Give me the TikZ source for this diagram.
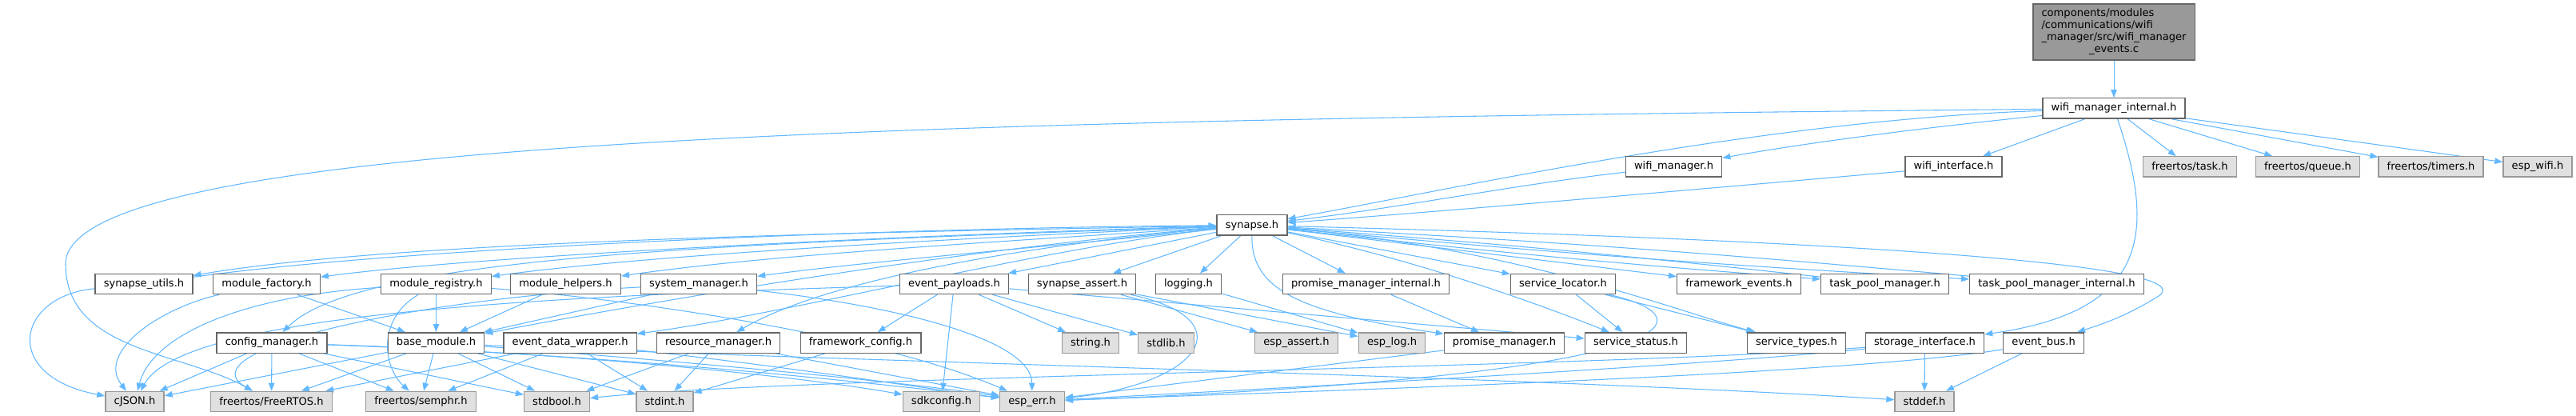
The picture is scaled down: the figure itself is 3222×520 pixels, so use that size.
\documentclass[tikz,border=0pt]{standalone}
\usepackage{fontspec}
\setmainfont{DejaVu Sans}
\usetikzlibrary{arrows.meta}
\definecolor{edgeblue}{HTML}{63B8FF}
\definecolor{boxline}{HTML}{666666}
\definecolor{sysline}{HTML}{999999}
\definecolor{sysfill}{HTML}{E0E0E0}
\definecolor{srcfill}{HTML}{999999}
\pgfdeclarelayer{edges}
\pgfsetlayers{edges,main}

\begin{document}
\begin{tikzpicture}[x=0.75pt,y=-0.75pt,
  every node/.style={font=\fontsize{9.8pt}{11.25pt}\selectfont,inner xsep=8pt,inner ysep=0pt,minimum height=19pt},
  hdr/.style={draw=boxline,fill=white,line width=1pt},
  sysh/.style={draw=sysline,fill=sysfill,line width=1pt},
  srcfile/.style={draw=boxline,fill=srcfill,line width=1pt,minimum height=52.5pt},
  dep/.style={draw=edgeblue,line width=0.8pt,-{Triangle[length=7.5pt,width=5.6pt]}}]
  \path[use as bounding box] (0,0) rectangle (3222,520);  % 源图 3222x520 px，1px = 0.75pt
  % ---- 第 0/1 层：源文件与 wifi_manager_internal.h（中心取源图像素）----
  \node[srcfile] (src) at (2644,40) {\begin{tabular}{@{}l@{}}components/modules\\/communications/wifi\\\_manager/src/wifi\_manager\\\multicolumn{1}{@{}c@{}}{\_events.c}\end{tabular}};
  \node[hdr] (wmi) at (2644,135.5) {wifi\_manager\_internal.h};
  % ---- 第 2 层 y=208.5 ----
  \node[hdr]  (wmgr)    at (2093.5,208.5) {wifi\_manager.h};
  \node[hdr]  (wif)     at (2443.5,208.5) {wifi\_interface.h};
  \node[sysh] (ftask)   at (2739,208.5)   {freertos/task.h};
  \node[sysh] (fqueue)  at (2886.5,208.5) {freertos/queue.h};
  \node[sysh] (ftimers) at (3040.5,208.5) {freertos/timers.h};
  \node[sysh] (espwifi) at (3174,208.5)   {esp\_wifi.h};
  % ---- 第 3 层 ----
  \node[hdr] (syn) at (1566,281.5) {synapse.h};
  % ---- 第 4 层 y=355 ----
  \node[hdr] (sutils)   at (180,355)    {synapse\_utils.h};
  \node[hdr] (mfact)    at (333.5,355)  {module\_factory.h};
  \node[hdr] (mreg)     at (545.5,355)  {module\_registry.h};
  \node[hdr] (mhelp)    at (707.5,355)  {module\_helpers.h};
  \node[hdr] (sysmgr)   at (874,355)    {system\_manager.h};
  \node[hdr] (evpay)    at (1193.5,355) {event\_payloads.h};
  \node[hdr] (sassert)  at (1353.5,355) {synapse\_assert.h};
  \node[hdr] (logging)  at (1486.5,355) {logging.h};
  \node[hdr] (pmint)    at (1708.5,355) {promise\_manager\_internal.h};
  \node[hdr] (svcloc)   at (1955,355)   {service\_locator.h};
  \node[hdr] (fwevents) at (2175,355)   {framework\_events.h};
  \node[hdr] (tpm)      at (2357.5,355) {task\_pool\_manager.h};
  \node[hdr] (tpmint)   at (2572.5,355) {task\_pool\_manager\_internal.h};
  % ---- 第 5 层 y=428.5 ----
  \node[hdr]  (cfgmgr)    at (340,428.5)    {config\_manager.h};
  \node[hdr]  (basemod)   at (545.5,428.5)  {base\_module.h};
  \node[hdr]  (evdw)      at (713,428.5)    {event\_data\_wrapper.h};
  \node[hdr]  (resmgr)    at (898.5,428.5)  {resource\_manager.h};
  \node[hdr]  (fwcfg)     at (1076.5,428.5) {framework\_config.h};
  \node[sysh] (stringh)   at (1364,428.5)   {string.h};
  \node[sysh] (stdlibh)   at (1458.5,428.5) {stdlib.h};
  \node[sysh] (espassert) at (1621.5,428.5) {esp\_assert.h};
  \node[sysh] (esplog)    at (1741,428.5)   {esp\_log.h};
  \node[hdr]  (pmgr)      at (1881.5,428.5) {promise\_manager.h};
  \node[hdr]  (svcstat)   at (2046,428.5)   {service\_status.h};
  \node[hdr]  (svctypes)  at (2247,428.5)   {service\_types.h};
  \node[hdr]  (storage)   at (2407.5,428.5) {storage\_interface.h};
  \node[hdr]  (evbus)     at (2556,428.5)   {event\_bus.h};
  % ---- 第 6 层 y=502：系统头文件 ----
  \node[sysh] (cjson)    at (168.5,502)  {cJSON.h};
  \node[sysh] (frtos)    at (339.5,502)  {freertos/FreeRTOS.h};
  \node[sysh] (semphr)   at (526.5,502)  {freertos/semphr.h};
  \node[sysh] (stdboolh) at (696.5,502)  {stdbool.h};
  \node[sysh] (stdinth)  at (831.5,502)  {stdint.h};
  \node[sysh] (sdkcfg)   at (1177.5,502) {sdkconfig.h};
  \node[sysh] (esperr)   at (1291,502)   {esp\_err.h};
  \node[sysh] (stddefh)  at (2407,502)   {stddef.h};

  \begin{pgfonlayer}{edges}  % 连线压在方框下面
  % ---- 上部连线 ----
  \draw[dep] (src) -- (wmi);
  \draw[dep] (wmi) .. controls (2200,150) and (1800,240) .. (syn);
  \draw[dep] (wmi) .. controls (2400,160) and (2250,180) .. (wmgr);
  \draw[dep] (wmi) -- (wif);
  \foreach \n in {ftask,fqueue,ftimers,espwifi} \draw[dep] (wmi) -- (\n);
  \draw[dep] (wmi) .. controls (1200,150) and (82,170) .. (82,330) .. controls (82,440) and (230,440) .. (frtos);
  \draw[dep] (wmi) .. controls (2700,300) and (2680,390) .. (storage);
  \draw[dep] (wmgr) .. controls (1900,230) and (1750,260) .. (syn);
  \draw[dep] (wif) .. controls (2200,230) and (1800,265) .. (syn);

  % ---- synapse.h 出边 ----
  \draw[dep] (syn) .. controls (1100,290) and (500,300) .. (sutils);
  \draw[dep] (sutils) .. controls (500,310) and (1100,285) .. (syn);
  \draw[dep] (syn) .. controls (1100,295) and (600,320) .. (mfact);
  \draw[dep] (syn) .. controls (1150,300) and (800,320) .. (mreg);
  \draw[dep] (syn) .. controls (1200,305) and (950,320) .. (mhelp);
  \draw[dep] (syn) .. controls (1300,310) and (1100,325) .. (sysmgr);
  \draw[dep] (syn) .. controls (900,305) and (450,320) .. (cfgmgr);
  \draw[dep] (syn) .. controls (1200,310) and (800,380) .. (basemod);
  \draw[dep] (syn) .. controls (1300,310) and (1000,390) .. (evdw);
  \draw[dep] (syn) .. controls (1350,300) and (1050,340) .. (resmgr);
  \foreach \n in {evpay,sassert,logging,pmint,svcloc,fwevents} \draw[dep] (syn) -- (\n);
  \draw[dep] (syn) to[bend right=1] (tpm);
  \draw[dep] (tpm) to[bend right=1] (syn);
  \draw[dep] (syn) to[bend right=1] (tpmint);
  \draw[dep] (tpmint) to[bend right=1] (syn);
  \draw[dep] (syn) .. controls (1900,310) and (2100,390) .. (svctypes);
  \draw[dep] (syn) .. controls (1750,320) and (1900,370) .. (svcstat);
  \draw[dep] (syn) .. controls (1565,360) and (1620,390) .. (pmgr);
  \draw[dep] (syn) .. controls (2300,300) and (2760,330) .. (2700,370) .. controls (2660,395) and (2630,405) .. (evbus);

  % ---- 第 4 层出边 ----
  \draw[dep] (sutils) .. controls (20,370) and (0,470) .. (cjson);
  \draw[dep] (mfact) .. controls (200,385) and (120,440) .. (cjson);
  \draw[dep] (mfact) -- (basemod);
  \draw[dep] (mreg) .. controls (300,370) and (190,420) .. (cjson);
  \draw[dep] (mreg) .. controls (470,400) and (480,460) .. (semphr);
  \draw[dep] (mreg) -- (basemod);
  \draw[dep] (mreg) .. controls (800,375) and (1100,420) .. (esperr);
  \draw[dep] (mhelp) -- (basemod);
  \draw[dep] (sysmgr) -- (basemod);
  \draw[dep] (sysmgr) .. controls (1100,380) and (1290,420) .. (esperr);
  \draw[dep] (sysmgr) .. controls (500,375) and (230,440) .. (frtos);
  \draw[dep] (evpay) .. controls (700,370) and (230,390) .. (cjson);
  \foreach \n in {fwcfg,sdkcfg,stringh,stdlibh,svcstat} \draw[dep] (evpay) -- (\n);
  \draw[dep] (sassert) -- (espassert);
  \draw[dep] (sassert) -- (esplog);
  \draw[dep] (sassert) .. controls (1560,400) and (1500,480) .. (esperr);
  \draw[dep] (logging) -- (esplog);
  \draw[dep] (pmint) -- (pmgr);
  \draw[dep] (svcloc) -- (svcstat);
  \draw[dep] (svcloc) -- (svctypes);
  \draw[dep] (svcloc) .. controls (2150,400) and (2100,470) .. (esperr);

  % ---- 第 5 层出边 ----
  \foreach \n in {cjson,frtos,semphr,stdboolh} \draw[dep] (cfgmgr) -- (\n);
  \draw[dep] (cfgmgr) .. controls (700,440) and (1000,470) .. (sdkcfg);
  \draw[dep] (cfgmgr) .. controls (800,445) and (1100,480) .. (esperr);
  \foreach \n in {cjson,frtos,semphr,stdboolh,stdinth} \draw[dep] (basemod) -- (\n);
  \draw[dep] (basemod) .. controls (900,455) and (1150,480) .. (esperr);
  \draw[dep] (basemod) .. controls (1000,450) and (1900,470) .. (stddefh);
  \foreach \n in {frtos,semphr,stdinth} \draw[dep] (evdw) -- (\n);
  \draw[dep] (evdw) .. controls (1000,460) and (1150,485) .. (esperr);
  \foreach \n in {stdboolh,stdinth,esperr} \draw[dep] (resmgr) -- (\n);
  \draw[dep] (fwcfg) -- (stdinth);
  \draw[dep] (pmgr) -- (esperr);
  \draw[dep] (storage) .. controls (2000,460) and (1000,470) .. (stdboolh);
  \draw[dep] (storage) .. controls (2100,460) and (1500,490) .. (esperr);
  \draw[dep] (storage) -- (stddefh);
  \draw[dep] (evbus) .. controls (2300,470) and (1600,490) .. (esperr);
  \draw[dep] (evbus) -- (stddefh);
  \end{pgfonlayer}
\end{tikzpicture}
\end{document}
